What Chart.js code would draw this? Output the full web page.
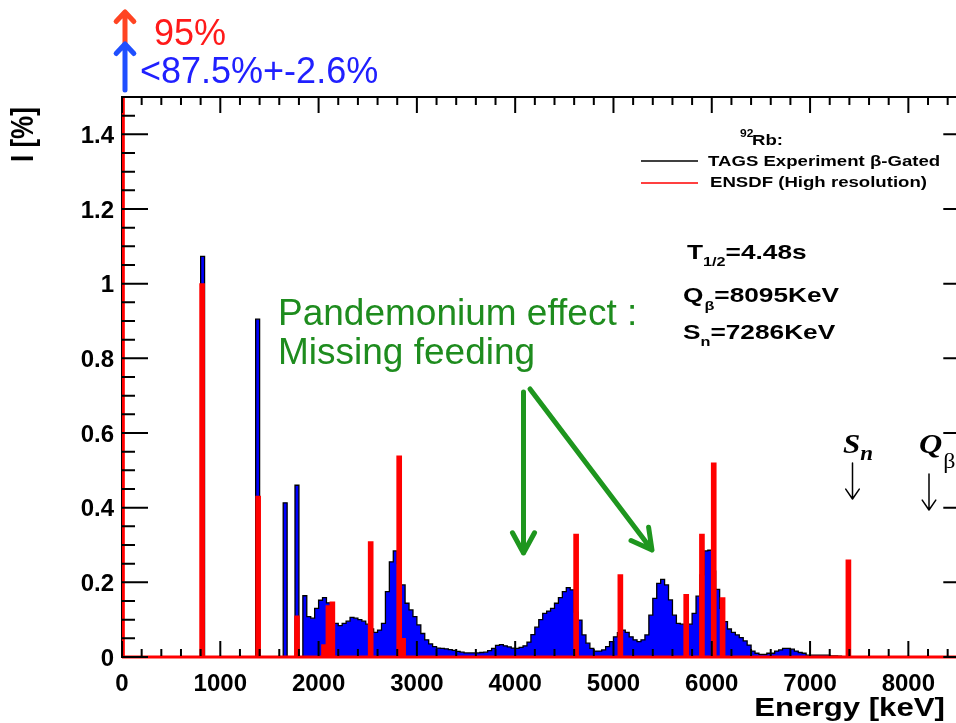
<!DOCTYPE html>
<html>
<head>
<meta charset="utf-8">
<script src="https://cdn.jsdelivr.net/npm/chart.js@4.4.0/dist/chart.umd.min.js"></script>
<style>
  html, body { margin: 0; padding: 0; background: #fff; overflow: hidden; }
  canvas { display: block; }
</style>
</head>
<body>
<canvas id="chart" width="975" height="723"></canvas>
<script>
// ===== DATA =====
// TAGS beta-gated feeding, 40 keV bins, first bin starts at 760 keV
const binWidth = 40;
const tagsStart = 760;
const tagsFeeding = [
  0,                                                                    // 760
  1.073, 0, 0, 0, 0, 0, 0, 0, 0, 0,                                     // 800
  0, 0, 0, 0, 0.905, 0, 0, 0, 0, 0,                                     // 1200
  0, 0.413, 0, 0, 0.46, 0, 0.164, 0.108, 0.104, 0.130,                  // 1600
  0.152, 0.159, 0.145, 0.12, 0.090, 0.084, 0.090, 0.096, 0.106, 0.104,  // 2000
  0.100, 0.096, 0.088, 0.075, 0.066, 0.072, 0.090, 0.175, 0.255, 0.284, // 2400
  0.25, 0.193, 0.144, 0.126, 0.108, 0.086, 0.063, 0.046, 0.035, 0.028,  // 2800
  0.024, 0.023, 0.022, 0.020, 0.018, 0.015, 0.013, 0.011, 0.011, 0.011, // 3200
  0.011, 0.012, 0.013, 0.017, 0.023, 0.031, 0.033, 0.030, 0.027, 0.024, // 3600
  0.023, 0.026, 0.030, 0.040, 0.060, 0.080, 0.100, 0.117, 0.123, 0.130, // 4000
  0.144, 0.159, 0.175, 0.186, 0.180, 0.12, 0.099, 0.059, 0.037, 0.023,  // 4400
  0.016, 0.016, 0.019, 0.028, 0.041, 0.054, 0.065, 0.072, 0.066, 0.054, // 4800
  0.046, 0.041, 0.046, 0.059, 0.112, 0.157, 0.197, 0.208, 0.193, 0.153, // 5200
  0.112, 0.090, 0.088, 0.088, 0.088, 0.117, 0.163, 0.22, 0.284, 0.286,  // 5600
  0.23, 0.181, 0.13, 0.095, 0.075, 0.066, 0.059, 0.052, 0.043, 0.032,   // 6000
  0.016, 0.010, 0.007, 0.007, 0.010, 0.010, 0.016, 0.019, 0.023, 0.023, // 6400
  0.021, 0.016, 0.012, 0.010, 0.005, 0.005, 0.005, 0.005, 0.005, 0.005, // 6800
  0.003, 0.003, 0.002, 0.001                                            // 7200
];

// ENSDF (high resolution) feeding: level energy [keV] and intensity [%]
const ensdfEnergy  = [0, 815, 1385, 1780, 2055, 2100, 2140, 2530, 2820, 2860, 4620, 5070, 5740, 5900, 6020, 6110, 7390];
const ensdfFeeding = [95, 1.0, 0.431, 0.11, 0.033, 0.138, 0.148, 0.309, 0.539, 0.05, 0.329, 0.221, 0.168, 0.329, 0.52, 0.159, 0.26];

const xTickValues = [0, 1000, 2000, 3000, 4000, 5000, 6000, 7000, 8000];
const xTickLabels = ["0", "1000", "2000", "3000", "4000", "5000", "6000", "7000", "8000"];
const yTickValues = [0, 0.2, 0.4, 0.6, 0.8, 1.0, 1.2, 1.4];
const yTickLabels = ["0", "0.2", "0.4", "0.6", "0.8", "1", "1.2", "1.4"];

const xMax = 8620;
const yMax = 1.5;

// ===== HELPERS =====
const SANS = '"Liberation Sans", Arial, Helvetica, sans-serif';
const SERIF = '"Liberation Serif", "Times New Roman", serif';

// text squeezed/stretched horizontally like the original screenshot
function stretchText(ctx, s, x, y, font, color, align, sx) {
  ctx.save();
  ctx.font = font;
  ctx.fillStyle = color;
  ctx.textBaseline = "alphabetic";
  ctx.textAlign = "left";
  const w = ctx.measureText(s).width * sx;
  let x0 = x;
  if (align === "center") x0 = x - w / 2;
  else if (align === "right") x0 = x - w;
  ctx.translate(x0, y);
  ctx.scale(sx, 1);
  ctx.fillText(s, 0, 0);
  ctx.restore();
  return x0 + w;
}

function arrow(ctx, x1, y1, x2, y2, color, width, head, spread) {
  const ang = Math.atan2(y2 - y1, x2 - x1);
  ctx.save();
  ctx.strokeStyle = color;
  ctx.lineWidth = width;
  ctx.lineCap = "round";
  ctx.lineJoin = "round";
  ctx.beginPath();
  ctx.moveTo(x1, y1);
  ctx.lineTo(x2, y2);
  ctx.moveTo(x2 - head * Math.cos(ang - spread), y2 - head * Math.sin(ang - spread));
  ctx.lineTo(x2, y2);
  ctx.lineTo(x2 - head * Math.cos(ang + spread), y2 - head * Math.sin(ang + spread));
  ctx.stroke();
  ctx.restore();
}

// ===== ROOT-STYLE FRAME, TICKS AND LABELS =====
const rootFrame = {
  id: "rootFrame",
  beforeDatasetsDraw(chart) {
    const { ctx, chartArea: a } = chart;
    ctx.save();
    ctx.strokeStyle = "#000";
    ctx.lineWidth = 2;
    ctx.strokeRect(a.left, a.top, a.right - a.left, a.bottom - a.top);
    ctx.restore();
  },
  afterDatasetsDraw(chart) {
    const { ctx, chartArea: a, scales: { x, y } } = chart;

    // ENSDF zero level
    ctx.save();
    ctx.strokeStyle = "#ff0000";
    ctx.lineWidth = 3;
    ctx.beginPath();
    ctx.moveTo(a.left, a.bottom);
    ctx.lineTo(a.right, a.bottom);
    ctx.stroke();

    // ticks on all four sides, pointing inwards
    ctx.strokeStyle = "#000";
    ctx.lineWidth = 2;
    ctx.beginPath();
    for (let e = 0; e <= xMax; e += 200) {
      const px = x.getPixelForValue(e);
      const len = e % 1000 === 0 ? 16 : 8;
      ctx.moveTo(px, a.bottom - 1);
      ctx.lineTo(px, a.bottom - len);
      ctx.moveTo(px, a.top);
      ctx.lineTo(px, a.top + len);
    }
    for (let k = 0; k <= 30; k++) {
      const py = y.getPixelForValue(k * 0.05);
      const len = k % 4 === 0 ? 26 : 13;
      ctx.moveTo(a.left, py);
      ctx.lineTo(a.left + len, py);
      ctx.moveTo(a.right, py);
      ctx.lineTo(a.right - len, py);
    }
    ctx.stroke();
    ctx.restore();

    // tick labels
    const tickFont = "bold 24px " + SANS;
    xTickValues.forEach((v, i) => {
      stretchText(ctx, xTickLabels[i], x.getPixelForValue(v), 691, tickFont, "#000", "center", 1.0);
    });
    yTickValues.forEach((v, i) => {
      stretchText(ctx, yTickLabels[i], 114, y.getPixelForValue(v) + 8.5, tickFont, "#000", "right", 1.0);
    });

    // axis titles
    stretchText(ctx, "Energy [keV]", 945, 716, "bold 26px " + SANS, "#000", "right", 1.2);
    ctx.save();
    ctx.translate(33, 162);
    ctx.rotate(-Math.PI / 2);
    ctx.scale(1, 1.2);
    ctx.font = "bold 26px " + SANS;
    ctx.fillStyle = "#000";
    ctx.fillText("I [%]", 0, 0);
    ctx.restore();

    // legend
    stretchText(ctx, "92", 740, 137, "bold 10px " + SANS, "#000", "left", 1.2);
    stretchText(ctx, "Rb:", 752, 145, "bold 15.5px " + SANS, "#000", "left", 1.2);
    ctx.save();
    ctx.lineWidth = 1.5;
    ctx.strokeStyle = "#000";
    ctx.beginPath(); ctx.moveTo(641, 161); ctx.lineTo(698, 161); ctx.stroke();
    ctx.strokeStyle = "#ff0000";
    ctx.beginPath(); ctx.moveTo(641, 183); ctx.lineTo(698, 183); ctx.stroke();
    ctx.restore();
    stretchText(ctx, "TAGS Experiment β-Gated", 708, 166, "bold 15.5px " + SANS, "#000", "left", 1.2);
    stretchText(ctx, "ENSDF (High resolution)", 710, 187, "bold 15.5px " + SANS, "#000", "left", 1.2);

    // decay parameters
    const pf = "bold 21px " + SANS, sf = "bold 13px " + SANS;
    let cx = stretchText(ctx, "T", 687, 259, pf, "#000", "left", 1.25);
    cx = stretchText(ctx, "1/2", cx, 266, sf, "#000", "left", 1.25);
    stretchText(ctx, "=4.48s", cx, 259, pf, "#000", "left", 1.25);
    cx = stretchText(ctx, "Q", 683, 302, pf, "#000", "left", 1.25);
    cx = stretchText(ctx, "β", cx + 1, 310, sf, "#000", "left", 1.25);
    stretchText(ctx, "=8095KeV", cx, 302, pf, "#000", "left", 1.25);
    cx = stretchText(ctx, "S", 683, 339, pf, "#000", "left", 1.25);
    cx = stretchText(ctx, "n", cx, 346, sf, "#000", "left", 1.25);
    stretchText(ctx, "=7286KeV", cx, 339, pf, "#000", "left", 1.25);

    // S_n and Q_beta markers
    cx = stretchText(ctx, "S", 843, 453, "bold italic 27px " + SERIF, "#000", "left", 1.15);
    stretchText(ctx, "n", cx, 460, "bold italic 20px " + SERIF, "#000", "left", 1.15);
    cx = stretchText(ctx, "Q", 919, 453, "bold italic 28px " + SERIF, "#000", "left", 1.15);
    stretchText(ctx, "β", cx + 1, 468, "20px " + SERIF, "#000", "left", 1.2);
    arrow(ctx, 852.5, 463, 852.5, 499, "#000", 1.5, 12, 0.6);
    arrow(ctx, 929, 474, 929, 510, "#000", 1.5, 12, 0.6);

    // ground-state feeding arrows (off scale)
    const x0 = x.getPixelForValue(0) + 3;
    arrow(ctx, x0, 46, x0, 12, "#ff4422", 5, 13, 0.75);
    arrow(ctx, x0, 90, x0, 44, "#1f4fff", 5, 13, 0.75);
    stretchText(ctx, "95%", 154, 45, "36px " + SANS, "#ff1a1a", "left", 1);
    stretchText(ctx, "<87.5%+-2.6%", 140, 83, "36px " + SANS, "#2020ff", "left", 1);

    // Pandemonium annotation
    stretchText(ctx, "Pandemonium effect :", 278, 325, "37px " + SANS, "#1e8c1e", "left", 1);
    stretchText(ctx, "Missing feeding", 278, 364, "37px " + SANS, "#1e8c1e", "left", 1);
    arrow(ctx, 523.5, 392, 523.5, 553, "#1e961e", 5, 23, 0.5);
    arrow(ctx, 530, 389, 652, 550, "#1e961e", 5, 23, 0.5);
  }
};

// ===== CHART =====
const tagsPoints = tagsFeeding.map((v, i) => ({ x: tagsStart + i * binWidth, y: v }));
tagsPoints.push({ x: tagsStart + tagsFeeding.length * binWidth, y: 0 });
const ensdfPoints = ensdfEnergy.map((e, i) => ({ x: e, y: ensdfFeeding[i] }));

new Chart(document.getElementById("chart"), {
  data: {
    datasets: [
      {
        type: "bar",
        label: "ENSDF (High resolution)",
        data: ensdfPoints,
        backgroundColor: "#ff0000",
        borderWidth: 0,
        barThickness: 5,
        grouped: false,
        order: 0,
      },
      {
        type: "line",
        label: "TAGS Experiment β-Gated",
        data: tagsPoints,
        stepped: true,
        fill: "origin",
        backgroundColor: "#0000ff",
        borderColor: "#000",
        borderWidth: 1.3,
        pointRadius: 0,
        tension: 0,
        order: 1,
      },
    ],
  },
  options: {
    responsive: false,
    animation: false,
    devicePixelRatio: 1,
    layout: { padding: { left: 122, top: 97, right: 975 - 969.3, bottom: 66 } },
    plugins: { legend: { display: false }, tooltip: { enabled: false } },
    scales: {
      x: { type: "linear", min: 0, max: xMax, offset: false, display: false },
      y: { type: "linear", min: 0, max: yMax, display: false },
    },
  },
  plugins: [rootFrame],
});
</script>
</body>
</html>
